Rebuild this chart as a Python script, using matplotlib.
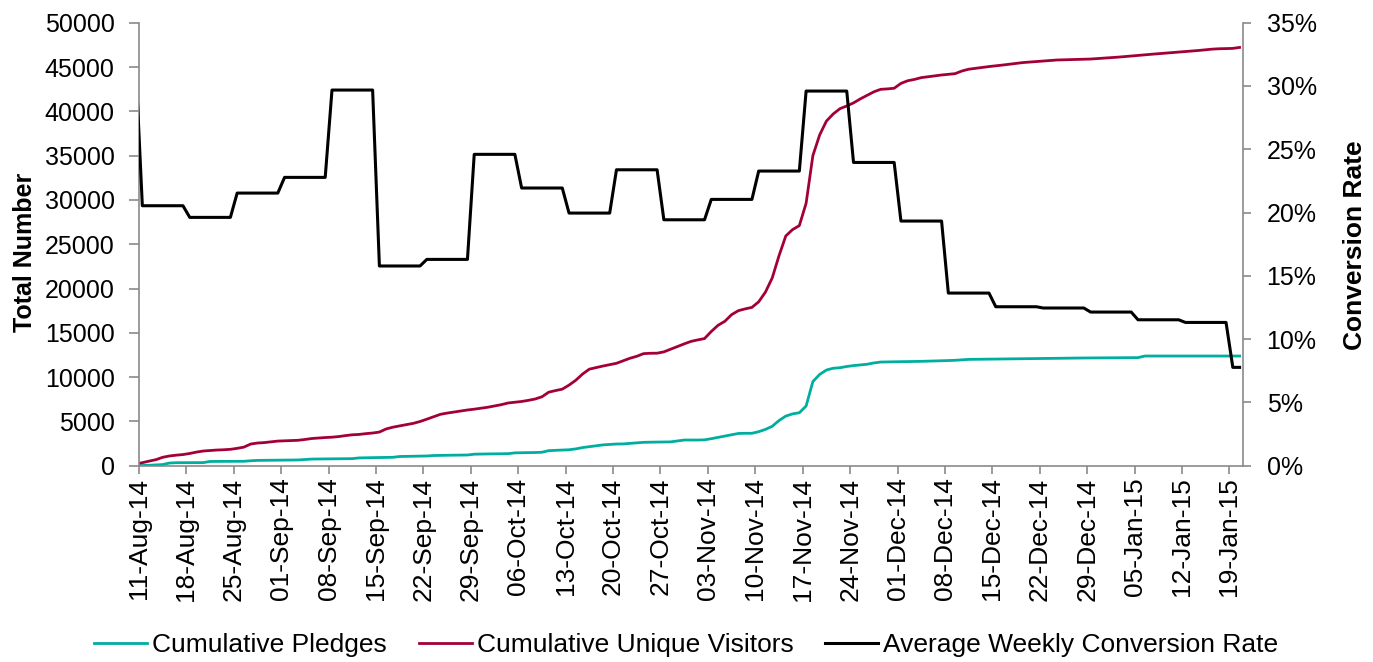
import pandas as pd
import matplotlib
matplotlib.use('Agg')
import matplotlib.pyplot as plt
import matplotlib.dates as mdates
from matplotlib.ticker import MultipleLocator, FuncFormatter

plt.rcParams['font.family'] = ['Liberation Sans', 'DejaVu Sans']

# one value per day, 10-Aug-14 .. 20-Jan-15 (rows = Mon..Sun weeks)
days = pd.date_range('2014-08-10', '2015-01-20', freq='D')

visitors = [
    200,
    340, 520, 680, 950, 1100, 1190, 1260,
    1380, 1540, 1660, 1720, 1770, 1800, 1850,
    1960, 2100, 2450, 2560, 2610, 2700, 2780,
    2810, 2840, 2870, 2960, 3070, 3130, 3180,
    3220, 3290, 3400, 3490, 3530, 3620, 3690,
    3800, 4150, 4350, 4500, 4640, 4780, 4990,
    5250, 5530, 5800, 5940, 6060, 6180, 6290,
    6380, 6490, 6600, 6740, 6890, 7080, 7170,
    7250, 7380, 7530, 7780, 8300, 8480, 8640,
    9100, 9650, 10350, 10900, 11080, 11250, 11400,
    11560, 11850, 12130, 12350, 12650, 12690, 12700,
    12850, 13150, 13450, 13750, 14030, 14200, 14350,
    15150, 15850, 16300, 17050, 17500, 17700, 17870,
    18500, 19600, 21200, 23700, 25930, 26650, 27100,
    29620, 35000, 37330, 38900, 39700, 40300, 40600,
    40950, 41400, 41800, 42200, 42480, 42530, 42600,
    43150, 43450, 43600, 43800, 43900, 44000, 44100,
    44180, 44250, 44550, 44750, 44850, 44950, 45050,
    45130, 45220, 45310, 45400, 45500, 45560, 45620,
    45680, 45740, 45790, 45810, 45830, 45850, 45880,
    45900, 45950, 46000, 46060, 46110, 46170, 46240,
    46310, 46380, 46440, 46500, 46560, 46620, 46680,
    46740, 46800, 46870, 46940, 47020, 47060, 47080,
    47100, 47210,
]

pledges = [
    0,
    20, 50, 90, 130, 300, 340, 340,
    340, 340, 350, 480, 490, 490, 490,
    500, 500, 560, 600, 610, 620, 620,
    630, 640, 650, 700, 750, 760, 770,
    780, 790, 790, 800, 880, 900, 910,
    920, 930, 950, 1040, 1060, 1070, 1080,
    1100, 1150, 1170, 1180, 1190, 1200, 1210,
    1300, 1320, 1330, 1340, 1350, 1360, 1450,
    1470, 1480, 1490, 1520, 1700, 1740, 1770,
    1800, 1900, 2050, 2150, 2250, 2350, 2400,
    2450, 2460, 2520, 2580, 2640, 2660, 2670,
    2680, 2690, 2800, 2900, 2900, 2900, 2920,
    3050, 3200, 3350, 3500, 3640, 3660, 3660,
    3840, 4100, 4450, 5100, 5600, 5850, 5980,
    6740, 9500, 10300, 10800, 11000, 11060, 11200,
    11300, 11370, 11450, 11600, 11700, 11720, 11730,
    11740, 11750, 11760, 11780, 11800, 11820, 11850,
    11870, 11900, 11950, 12000, 12010, 12020, 12030,
    12040, 12050, 12060, 12070, 12080, 12090, 12100,
    12110, 12120, 12130, 12140, 12150, 12155, 12160,
    12165, 12170, 12175, 12180, 12185, 12190, 12195,
    12200, 12380, 12380, 12380, 12380, 12380, 12380,
    12380, 12380, 12380, 12380, 12380, 12380, 12380,
    12380, 12380,
]

# average weekly conversion rate, %
conv_rate = [
    32.0,
    20.54, 20.54, 20.54, 20.54, 20.54, 20.54, 20.54,
    19.62, 19.62, 19.62, 19.62, 19.62, 19.62, 19.62,
    21.54, 21.54, 21.54, 21.54, 21.54, 21.54, 21.54,
    22.78, 22.78, 22.78, 22.78, 22.78, 22.78, 22.78,
    29.68, 29.68, 29.68, 29.68, 29.68, 29.68, 29.68,
    15.78, 15.78, 15.78, 15.78, 15.78, 15.78, 15.78,
    16.30, 16.30, 16.30, 16.30, 16.30, 16.30, 16.30,
    24.60, 24.60, 24.60, 24.60, 24.60, 24.60, 24.60,
    21.94, 21.94, 21.94, 21.94, 21.94, 21.94, 21.94,
    19.96, 19.96, 19.96, 19.96, 19.96, 19.96, 19.96,
    23.38, 23.38, 23.38, 23.38, 23.38, 23.38, 23.38,
    19.43, 19.43, 19.43, 19.43, 19.43, 19.43, 19.43,
    21.04, 21.04, 21.04, 21.04, 21.04, 21.04, 21.04,
    23.28, 23.28, 23.28, 23.28, 23.28, 23.28, 23.28,
    29.60, 29.60, 29.60, 29.60, 29.60, 29.60, 29.60,
    23.96, 23.96, 23.96, 23.96, 23.96, 23.96, 23.96,
    19.33, 19.33, 19.33, 19.33, 19.33, 19.33, 19.33,
    13.64, 13.64, 13.64, 13.64, 13.64, 13.64, 13.64,
    12.56, 12.56, 12.56, 12.56, 12.56, 12.56, 12.56,
    12.46, 12.46, 12.46, 12.46, 12.46, 12.46, 12.46,
    12.14, 12.14, 12.14, 12.14, 12.14, 12.14, 12.14,
    11.53, 11.53, 11.53, 11.53, 11.53, 11.53, 11.53,
    11.32, 11.32, 11.32, 11.32, 11.32, 11.32, 11.32,
    7.77, 7.77,
]

tick_dates = pd.date_range('2014-08-11', '2015-01-19', freq='7D')

teal = '#00AE9F'
crimson = '#A3003A'
gray = '#8A8A8A'

fig = plt.figure(figsize=(13.73, 6.62), dpi=100)
ax = fig.add_axes([0.1012, 0.2965, 0.8041, 0.6692])
ax2 = ax.twinx()

x = days + pd.Timedelta(hours=12)
l1, = ax.plot(x, pledges, color=teal, lw=2.0, label='Cumulative Pledges')
l2, = ax.plot(x, visitors, color=crimson, lw=2.0, label='Cumulative Unique Visitors')
l3, = ax2.plot(x, conv_rate, color='black', lw=2.2, label='Average Weekly Conversion Rate')

ax.set_xlim(pd.Timestamp('2014-08-11'), pd.Timestamp('2015-01-21'))
ax.set_ylim(0, 50000)
ax.yaxis.set_major_locator(MultipleLocator(5000))
ax2.set_ylim(0, 35)
ax2.yaxis.set_major_locator(MultipleLocator(5))
ax2.yaxis.set_major_formatter(FuncFormatter(lambda v, p: '%d%%' % v))

ax.set_xticks(tick_dates)
ax.xaxis.set_major_formatter(mdates.DateFormatter('%d-%b-%y'))

for s in ['top', 'right']:
    ax.spines[s].set_visible(False)
for s in ['top', 'left', 'bottom']:
    ax2.spines[s].set_visible(False)
for sp in [ax.spines['left'], ax.spines['bottom'], ax2.spines['right']]:
    sp.set_color(gray)
    sp.set_linewidth(1.2)

ax.tick_params(axis='y', colors=gray, labelcolor='black', labelsize=18,
               length=7.5, width=1.2, pad=10)
ax.tick_params(axis='x', colors=gray, labelcolor='black', labelsize=19,
               length=5.5, width=1.2, pad=3, labelrotation=90)
ax2.tick_params(axis='y', colors=gray, labelcolor='black', labelsize=18,
                length=6, width=1.2, pad=11)

fig.text(25 / 1373, 1 - 252 / 662, 'Total Number', rotation=90, ha='center',
         va='center', fontsize=18, fontweight='bold')
fig.text(1355 / 1373, 1 - 245 / 662, 'Conversion Rate', rotation=90, ha='center',
         va='center', fontsize=19, fontweight='bold')

fig.legend(handles=[l1, l2, l3], loc='center', bbox_to_anchor=(0.5, 1 - 645 / 662),
           ncol=3, frameon=False, fontsize=19, handlelength=2.0,
           handletextpad=0.2, columnspacing=1.2)

fig.savefig('out.png', dpi=100)
